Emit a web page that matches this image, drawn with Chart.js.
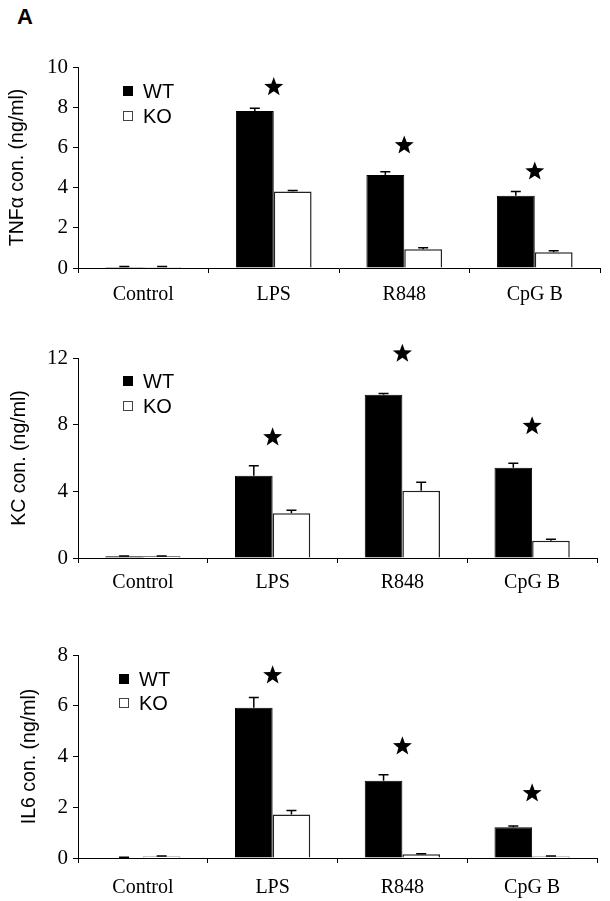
<!DOCTYPE html>
<html>
<head>
<meta charset="utf-8">
<script src="https://cdn.jsdelivr.net/npm/chart.js@4.4.0/dist/chart.umd.min.js"></script>
<style>
  html, body { margin: 0; padding: 0; background: #fff; }
  body { width: 610px; height: 901px; position: relative; overflow: hidden; }
  .panel { position: absolute; left: 0; }
  #lab { position: absolute; left: 17px; top: 4px; font: bold 22px "Liberation Sans", Arial, sans-serif; color: #000; }
</style>
</head>
<body>
<div id="lab">A</div>
<canvas id="c1" class="panel" width="610" height="310" style="top:0px"></canvas>
<canvas id="c2" class="panel" width="610" height="290" style="top:310px"></canvas>
<canvas id="c3" class="panel" width="610" height="290" style="top:610px"></canvas>
<script>
// ---- data ----
const categories = ['Control', 'LPS', 'R848', 'CpG B'];
const seriesNames = ['WT', 'KO'];

const tnfWT    = [0.05, 7.81, 4.63, 3.60];
const tnfWTErr = [0.02, 0.14, 0.16, 0.20];
const tnfKO    = [0.05, 3.80, 0.93, 0.78];
const tnfKOErr = [0.02, 0.05, 0.08, 0.08];
const tnfStars = [null, 9.0, 6.1, 4.8];
const tnfTicks = [0, 2, 4, 6, 8, 10];

const kcWT    = [0.10, 4.94, 9.79, 5.42];
const kcWTErr = [0.02, 0.60, 0.08, 0.26];
const kcKO    = [0.10, 2.69, 4.04, 1.03];
const kcKOErr = [0.02, 0.18, 0.51, 0.10];
const kcStars = [null, 7.24, 12.26, 7.91];
const kcTicks = [0, 4, 8, 12];

const il6WT    = [0.02, 5.92, 3.04, 1.21];
const il6WTErr = [0.01, 0.41, 0.24, 0.05];
const il6KO    = [0.06, 1.71, 0.15, 0.06];
const il6KOErr = [0.02, 0.16, 0.02, 0.02];
const il6Stars = [null, 7.2, 4.4, 2.55];
const il6Ticks = [0, 2, 4, 6, 8];

const yTitles = ['TNFα con. (ng/ml)', 'KC con. (ng/ml)', 'IL6 con. (ng/ml)'];

// ---- helpers ----
const SERIF = '"Liberation Serif", "Times New Roman", serif';
const SANS = '"Liberation Sans", Arial, sans-serif';

function drawStar(ctx, cx, cy, R) {
  const r = R * 0.42;
  ctx.beginPath();
  for (let i = 0; i < 10; i++) {
    const a = -Math.PI / 2 + i * Math.PI / 5;
    const rad = i % 2 === 0 ? R : r;
    const x = cx + rad * Math.cos(a), y = cy + rad * Math.sin(a);
    if (i === 0) ctx.moveTo(x, y); else ctx.lineTo(x, y);
  }
  ctx.closePath();
  ctx.fillStyle = '#000';
  ctx.fill();
}

const extrasPlugin = {
  id: 'extras',
  afterDatasetsDraw(chart, args, opts) {
    const ctx = chart.ctx;
    const ys = chart.scales.y, xs = chart.scales.x;
    ctx.save();
    // error bars
    chart.data.datasets.forEach((ds, di) => {
      const meta = chart.getDatasetMeta(di);
      meta.data.forEach((bar, i) => {
        const e = ds.errors[i];
        if (e == null) return;
        const yTop = ys.getPixelForValue(ds.data[i] + e);
        ctx.strokeStyle = '#000';
        ctx.lineWidth = 1.5;
        ctx.beginPath();
        ctx.moveTo(bar.x, bar.y);
        ctx.lineTo(bar.x, yTop);
        ctx.moveTo(bar.x - 5, yTop);
        ctx.lineTo(bar.x + 5, yTop);
        ctx.stroke();
      });
    });
    // stars
    (opts.stars || []).forEach((v, i) => {
      if (v == null) return;
      drawStar(ctx, xs.getPixelForValue(i), ys.getPixelForValue(v), 10);
    });
    // legend
    const ca = chart.chartArea;
    const lx = opts.legendX, l0 = ca.top + opts.legendY;
    chart.data.datasets.forEach((ds, di) => {
      const cy = l0 + di * opts.legendGap;
      if (di === 0) {
        ctx.fillStyle = '#000';
        ctx.fillRect(lx - 5, cy - 5, 10, 10);
      } else {
        ctx.fillStyle = '#fff';
        ctx.fillRect(lx - 5, cy - 5, 10, 10);
        ctx.strokeStyle = '#444';
        ctx.lineWidth = 1;
        ctx.strokeRect(lx - 4.5, cy - 4.5, 9, 9);
      }
      ctx.fillStyle = '#000';
      ctx.font = '20px ' + SANS;
      ctx.textBaseline = 'middle';
      ctx.textAlign = 'left';
      ctx.fillText(ds.label, lx + 15, cy + 1);
    });
    ctx.restore();
  }
};

function makePanel(id, cfg) {
  new Chart(document.getElementById(id), {
    type: 'bar',
    data: {
      labels: categories,
      datasets: [
        { label: seriesNames[0], data: cfg.wt, errors: cfg.wtErr,
          backgroundColor: '#000', borderColor: '#000', borderWidth: 1,
          categoryPercentage: 0.58, barPercentage: 1.0 },
        { label: seriesNames[1], data: cfg.ko, errors: cfg.koErr,
          backgroundColor: '#fff', borderColor: '#222', borderWidth: 1.5,
          categoryPercentage: 0.58, barPercentage: 1.0 }
      ]
    },
    options: {
      responsive: false,
      animation: false,
      events: [],
      layout: { padding: { left: 0, top: cfg.padTop, right: cfg.padRight, bottom: 0 } },
      plugins: {
        legend: { display: false },
        tooltip: { enabled: false },
        extras: { stars: cfg.stars, legendX: cfg.legendX, legendY: cfg.legendY, legendGap: cfg.legendGap }
      },
      scales: {
        x: {
          grid: { display: true, drawOnChartArea: false, drawTicks: true, tickLength: 5, color: '#000', lineWidth: 1, offset: true },
          border: { display: true, color: '#000', width: 1 },
          ticks: { color: '#000', font: { family: SERIF, size: 20 }, padding: cfg.labelPad, maxRotation: 0 },
          afterFit(s) { s.height = 42; }
        },
        y: {
          min: 0, max: cfg.ticks[cfg.ticks.length - 1],
          afterBuildTicks(s) { s.ticks = cfg.ticks.map(v => ({ value: v })); },
          grid: { display: true, drawOnChartArea: false, drawTicks: true, tickLength: 5, color: '#000', lineWidth: 1 },
          border: { display: true, color: '#000', width: 1 },
          ticks: { color: '#000', font: { family: SERIF, size: 21 }, padding: 5 },
          title: { display: true, text: cfg.title, color: '#000', font: { family: SANS, size: 19.5 }, padding: { top: cfg.titlePad, bottom: 0 } },
          afterFit(s) { s.width = 78; }
        }
      }
    },
    plugins: [extrasPlugin]
  });
}

makePanel('c1', { wt: tnfWT, wtErr: tnfWTErr, ko: tnfKO, koErr: tnfKOErr, stars: tnfStars, ticks: tnfTicks,
  title: yTitles[0], padTop: 67, padRight: 10, labelPad: 10, titlePad: 6, legendX: 128, legendY: 24, legendGap: 25 });
makePanel('c2', { wt: kcWT, wtErr: kcWTErr, ko: kcKO, koErr: kcKOErr, stars: kcStars, ticks: kcTicks,
  title: yTitles[1], padTop: 48, padRight: 13, labelPad: 8, titlePad: 8, legendX: 128, legendY: 23, legendGap: 25 });
makePanel('c3', { wt: il6WT, wtErr: il6WTErr, ko: il6KO, koErr: il6KOErr, stars: il6Stars, ticks: il6Ticks,
  title: yTitles[2], padTop: 45, padRight: 13, labelPad: 13, titlePad: 18, legendX: 124, legendY: 24, legendGap: 24 });
</script>
</body>
</html>
